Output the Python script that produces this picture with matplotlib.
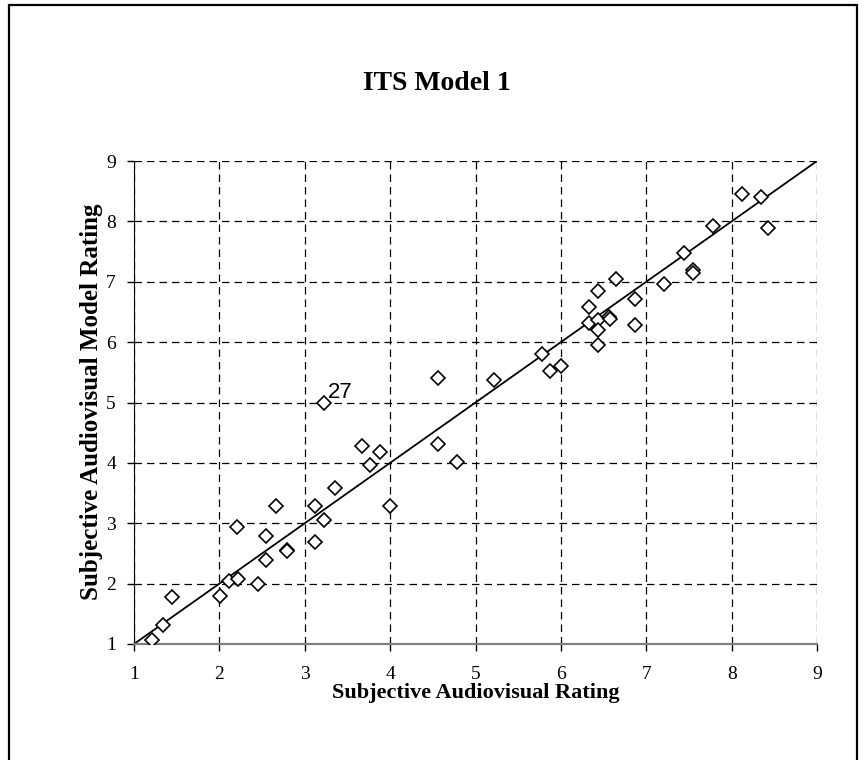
import matplotlib
matplotlib.use("Agg")
import matplotlib.pyplot as plt
from matplotlib.patches import Rectangle

# Data
subjective = [1.21, 1.34, 1.44, 2.01, 2.11, 2.22, 2.45, 2.55, 2.79, 2.79,
              3.12, 2.21, 2.55, 2.66, 3.12, 3.22, 3.35, 3.22, 3.67, 3.88,
              3.77, 4.00, 4.56, 4.56, 4.78, 5.22, 5.78, 5.87, 6.00, 6.33,
              6.43, 6.64, 6.33, 6.43, 6.43, 6.43, 6.56, 6.57, 6.87, 6.87,
              7.21, 7.44, 7.55, 7.55, 7.78, 8.12, 8.34, 8.43]
model = [1.07, 1.31, 1.78, 1.79, 2.04, 2.07, 2.00, 2.39, 2.56, 2.54,
         2.69, 2.93, 2.79, 3.28, 3.28, 3.05, 3.59, 4.99, 4.28, 4.18,
         3.96, 3.28, 5.41, 4.31, 4.01, 5.38, 5.81, 5.52, 5.61, 6.58,
         6.85, 7.05, 6.31, 6.36, 6.20, 5.95, 6.42, 6.38, 6.72, 6.28,
         6.96, 7.48, 7.20, 7.14, 7.92, 8.45, 8.41, 7.89]
fit_x = [1, 9]
fit_y = [1, 9]
ticks = [1, 2, 3, 4, 5, 6, 7, 8, 9]
label_point = (3.22, 4.99)
label_text = "27"

serif = ["Liberation Serif", "DejaVu Serif"]
sans = ["Liberation Sans", "DejaVu Sans"]

fig = plt.figure(figsize=(8.64, 7.6), dpi=100)
ax = fig.add_axes([134 / 864, 1 - 644 / 760, (817 - 134) / 864, (644 - 161) / 760])

ax.plot(fit_x, fit_y, color="black", lw=1.3, zorder=2)
ax.plot(subjective, model, linestyle="none", marker="D", ms=6.8,
        mfc="white", mec="black", mew=1.2, zorder=3)
ax.text(label_point[0] + 0.05, label_point[1] + 0.09, label_text,
        family=sans, fontsize=16, ha="left", va="baseline")

ax.set_xlim(1, 9)
ax.set_ylim(1, 9)
ax.set_xticks(ticks)
ax.set_yticks(ticks)
ax.grid(True, color="black", linestyle=(0, (6, 4)), lw=0.9)
ax.set_axisbelow(True)
for s in ["top", "right"]:
    ax.spines[s].set_visible(False)
ax.spines["left"].set_color("black")
ax.spines["bottom"].set_color("#808080")
ax.spines["bottom"].set_linewidth(1.6)
ax.tick_params(direction="out", length=5, width=1, labelsize=14)
ax.tick_params(axis="x", pad=11)
ax.tick_params(axis="y", pad=8)
for lab in ax.get_xticklabels() + ax.get_yticklabels():
    lab.set_family(serif)

fig.text(437 / 864, 1 - 83 / 760, "ITS Model 1", family=serif,
         fontweight="bold", fontsize=20, ha="center", va="center")
fig.text(476 / 864, 1 - 693 / 760, "Subjective Audiovisual Rating",
         family=serif, fontweight="bold", fontsize=16, ha="center", va="center")
fig.text(92 / 864, 1 - 402 / 760, "Subjective Audiovisual Model Rating",
         family=serif, fontweight="bold", fontsize=18, ha="center",
         va="center", rotation=90)

fig.patches.append(Rectangle((9 / 864, -0.05), (857 - 9) / 864,
                             1.05 - 5 / 760, transform=fig.transFigure,
                             fill=False, edgecolor="black", lw=1.6))

fig.savefig("out.png", dpi=100, facecolor="white")
